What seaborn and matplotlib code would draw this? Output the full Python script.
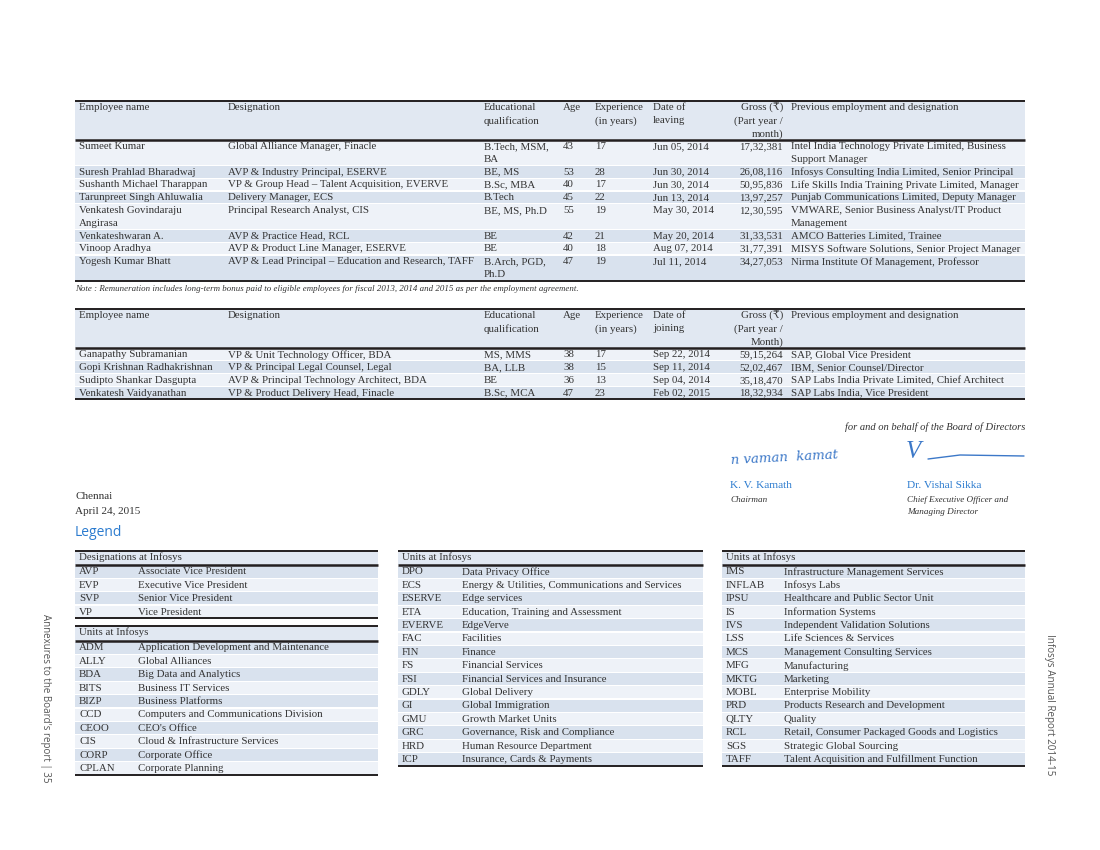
import numpy as np
import pandas as pd
import seaborn as sns
import matplotlib.pyplot as plt
from matplotlib.patches import Rectangle

sns.set_theme(style="white")
plt.rcParams['font.family'] = ['Liberation Serif', 'DejaVu Serif', 'DejaVu Sans']

# ---- employees who left ----
left_names = ["Sumeet Kumar", "Suresh Prahlad Bharadwaj", "Sushanth Michael Tharappan",
              "Tarunpreet Singh Ahluwalia", "Venkatesh Govindaraju\nAngirasa", "Venkateshwaran A.",
              "Vinoop Aradhya", "Yogesh Kumar Bhatt"]
left_designations = ["Global Alliance Manager, Finacle", "AVP & Industry Principal, ESERVE",
                     "VP & Group Head \u2013 Talent Acquisition, EVERVE", "Delivery Manager, ECS",
                     "Principal Research Analyst, CIS", "AVP & Practice Head, RCL",
                     "AVP & Product Line Manager, ESERVE",
                     "AVP & Lead Principal \u2013 Education and Research, TAFF"]
left_quals = ["B.Tech, MSM,\nBA", "BE, MS", "B.Sc, MBA", "B.Tech", "BE, MS, Ph.D", "BE", "BE",
              "B.Arch, PGD,\nPh.D"]
left_age = [43, 53, 40, 45, 55, 42, 40, 47]
left_exp = [17, 28, 17, 22, 19, 21, 18, 19]
left_dates = ["Jun 05, 2014", "Jun 30, 2014", "Jun 30, 2014", "Jun 13, 2014", "May 30, 2014",
              "May 20, 2014", "Aug 07, 2014", "Jul 11, 2014"]
left_gross = [1732381, 2608116, 5095836, 1397257, 1230595, 3133531, 3177391, 3427053]
left_prev = ["Intel India Technology Private Limited, Business\nSupport Manager",
             "Infosys Consulting India Limited, Senior Principal",
             "Life Skills India Training Private Limited, Manager",
             "Punjab Communications Limited, Deputy Manager",
             "VMWARE, Senior Business Analyst/IT Product\nManagement",
             "AMCO Batteries Limited, Trainee",
             "MISYS Software Solutions, Senior Project Manager",
             "Nirma Institute Of Management, Professor"]

# ---- employees who joined ----
join_names = ["Ganapathy Subramanian", "Gopi Krishnan Radhakrishnan", "Sudipto Shankar Dasgupta",
              "Venkatesh Vaidyanathan"]
join_designations = ["VP & Unit Technology Officer, BDA", "VP & Principal Legal Counsel, Legal",
                     "AVP & Principal Technology Architect, BDA", "VP & Product Delivery Head, Finacle"]
join_quals = ["MS, MMS", "BA, LLB", "BE", "B.Sc, MCA"]
join_age = [38, 38, 36, 47]
join_exp = [17, 15, 13, 23]
join_dates = ["Sep 22, 2014", "Sep 11, 2014", "Sep 04, 2014", "Feb 02, 2015"]
join_gross = [5915264, 5202467, 3518470, 1832934]
join_prev = ["SAP, Global Vice President", "IBM, Senior Counsel/Director",
             "SAP Labs India Private Limited, Chief Architect", "SAP Labs India, Vice President"]

# ---- legend ----
desig_codes = ["AVP", "EVP", "SVP", "VP"]
desig_names = ["Associate Vice President", "Executive Vice President", "Senior Vice President",
               "Vice President"]
units1_codes = ["ADM", "ALLY", "BDA", "BITS", "BIZP", "CCD", "CEOO", "CIS", "CORP", "CPLAN"]
units1_names = ["Application Development and Maintenance", "Global Alliances", "Big Data and Analytics",
                "Business IT Services", "Business Platforms", "Computers and Communications Division",
                "CEO's Office", "Cloud & Infrastructure Services", "Corporate Office", "Corporate Planning"]
units2_codes = ["DPO", "ECS", "ESERVE", "ETA", "EVERVE", "FAC", "FIN", "FS", "FSI", "GDLY", "GI", "GMU",
                "GRC", "HRD", "ICP"]
units2_names = ["Data Privacy Office", "Energy & Utilities, Communications and Services", "Edge services",
                "Education, Training and Assessment", "EdgeVerve", "Facilities", "Finance",
                "Financial Services", "Financial Services and Insurance", "Global Delivery",
                "Global Immigration", "Growth Market Units", "Governance, Risk and Compliance",
                "Human Resource Department", "Insurance, Cards & Payments"]
units3_codes = ["IMS", "INFLAB", "IPSU", "IS", "IVS", "LSS", "MCS", "MFG", "MKTG", "MOBL", "PRD", "QLTY",
                "RCL", "SGS", "TAFF"]
units3_names = ["Infrastructure Management Services", "Infosys Labs", "Healthcare and Public Sector Unit",
                "Information Systems", "Independent Validation Solutions", "Life Sciences & Services",
                "Management Consulting Services", "Manufacturing", "Marketing", "Enterprise Mobility",
                "Products Research and Development", "Quality",
                "Retail, Consumer Packaged Goods and Logistics", "Strategic Global Sourcing",
                "Talent Acquisition and Fulfillment Function"]

TXT = '#333333'
LINE = '#231f20'
HEAD_BG = '#e1e8f2'
ROW_BG = ['#eef2f8', '#d9e2ee']
BLUE = '#2b7bcf'
SIG = '#3c78c8'
FS = 7.8


def inr(v):
    # indian digit grouping: 17,32,381
    s = str(v)
    last3, rest = s[-3:], s[:-3]
    groups = []
    while len(rest) > 2:
        groups.insert(0, rest[-2:])
        rest = rest[:-2]
    if rest:
        groups.insert(0, rest)
    return ",".join(groups + [last3])


def cell(ax, x, y, text, lh, ha='left'):
    for i, line in enumerate(str(text).split("\n")):
        ax.text(x, y + i * lh, line, ha=ha, va='center', color=TXT, fontsize=FS)


def hline(ax, x0, x1, y, lw=1.4):
    ax.plot([x0, x1], [y, y], color=LINE, lw=lw, solid_capstyle='butt')


def table(ax, x0, x1, top, head_h, header, rows, cols, lh, first_dark=False):
    ax.add_patch(Rectangle((x0, top), x1 - x0, head_h, color=HEAD_BG, lw=0))
    for (x, ha), h in zip(cols, header):
        cell(ax, x, top + 6.5, h, 13.4, ha)
    y = top + head_h
    for i, row in enumerate(rows):
        n = max(str(c).count("\n") + 1 for c in row)
        ax.add_patch(Rectangle((x0, y + 0.6), x1 - x0, n * lh - 1.2,
                               color=ROW_BG[(i + first_dark) % 2], lw=0))
        for (x, ha), c in zip(cols, row):
            cell(ax, x, y + lh / 2 + 0.3, c, lh, ha)
        y += n * lh
    hline(ax, x0, x1, top)
    hline(ax, x0, x1, top + head_h, 1.8)
    hline(ax, x0, x1, y)
    return y


fig = plt.figure(figsize=(11, 8.5), dpi=100)
ax = fig.add_axes([0, 0, 1, 1])
ax.set_xlim(0, 1100)
ax.set_ylim(850, 0)
ax.axis('off')

cols = [(79, 'left'), (228, 'left'), (484, 'left'), (563, 'left'), (595, 'left'), (653, 'left'),
        (783, 'right'), (791, 'left')]

leavers = pd.DataFrame({"name": left_names, "desig": left_designations, "qual": left_quals,
                        "age": left_age, "exp": left_exp, "date": left_dates,
                        "gross": [inr(g) for g in left_gross], "prev": left_prev})
joiners = pd.DataFrame({"name": join_names, "desig": join_designations, "qual": join_quals,
                        "age": join_age, "exp": join_exp, "date": join_dates,
                        "gross": [inr(g) for g in join_gross], "prev": join_prev})

head1 = ["Employee name", "Designation", "Educational\nqualification", "Age", "Experience\n(in years)",
         "Date of\nleaving", "Gross (\u20b9)\n(Part year /\nmonth)", "Previous employment and designation"]
head2 = head1[:5] + ["Date of\njoining", "Gross (\u20b9)\n(Part year /\nMonth)", head1[7]]

table(ax, 75, 1025, 101, 38.8, head1, leavers.values.tolist(), cols, 12.8)
ax.text(75, 289, "Note : Remuneration includes long-term bonus paid to eligible employees for fiscal 2013, "
        "2014 and 2015 as per the employment agreement.", fontsize=6.4, style='italic', color=TXT,
        va='center')
table(ax, 75, 1025, 309, 39, head2, joiners.values.tolist(), cols, 12.8)

# sign-off
ax.text(1025, 427, "for and on behalf of the Board of Directors", ha='right', va='center',
        fontsize=7.6, style='italic', color=TXT)
ax.text(730, 458, "n vaman  kamat", fontsize=9.5, style='italic', color=SIG,
        family='DejaVu Serif', va='center', rotation=3)
ax.text(906, 452, "V", fontsize=18, style='italic', color=SIG, va='center')
ax.plot([928, 960, 1024], [459, 455, 456], color=SIG, lw=1)
ax.text(730, 485, "K. V. Kamath", fontsize=8.2, color=BLUE, va='center')
ax.text(730, 500, "Chairman", fontsize=6.6, style='italic', color=TXT, va='center')
ax.text(907, 485, "Dr. Vishal Sikka", fontsize=8.2, color=BLUE, va='center')
ax.text(907, 500, "Chief Executive Officer and", fontsize=6.6, style='italic', color=TXT, va='center')
ax.text(907, 512, "Managing Director", fontsize=6.6, style='italic', color=TXT, va='center')
ax.text(75, 496, "Chennai", fontsize=8, color=TXT, va='center')
ax.text(75, 511, "April 24, 2015", fontsize=8, color=TXT, va='center')
ax.text(75, 533, "Legend", fontsize=10, color=BLUE, va='center', family='Open Sans')

# legend tables
lcols = [(79, 'left'), (138, 'left')]
table(ax, 75, 378, 551, 14, ["Designations at Infosys"], list(zip(desig_codes, desig_names)),
      lcols, 13.35, first_dark=True)
table(ax, 75, 378, 626, 15, ["Units at Infosys"], list(zip(units1_codes, units1_names)),
      lcols, 13.4, first_dark=True)
table(ax, 398, 703, 551, 14, ["Units at Infosys"], list(zip(units2_codes, units2_names)),
      [(402, 'left'), (462, 'left')], 13.4, first_dark=True)
table(ax, 722, 1025, 551, 14, ["Units at Infosys"], list(zip(units3_codes, units3_names)),
      [(726, 'left'), (784, 'left')], 13.4, first_dark=True)

# page margins
ax.text(45, 698, "Annexures to the Board's report | 35", rotation=270, ha='center', va='center',
        fontsize=7, color='#555555', family='Open Sans')
ax.text(1050, 705, "Infosys Annual Report 2014-15", rotation=270, ha='center', va='center',
        fontsize=7.1, color='#555555', family='Open Sans')

fig.savefig("out.png", dpi=100)
